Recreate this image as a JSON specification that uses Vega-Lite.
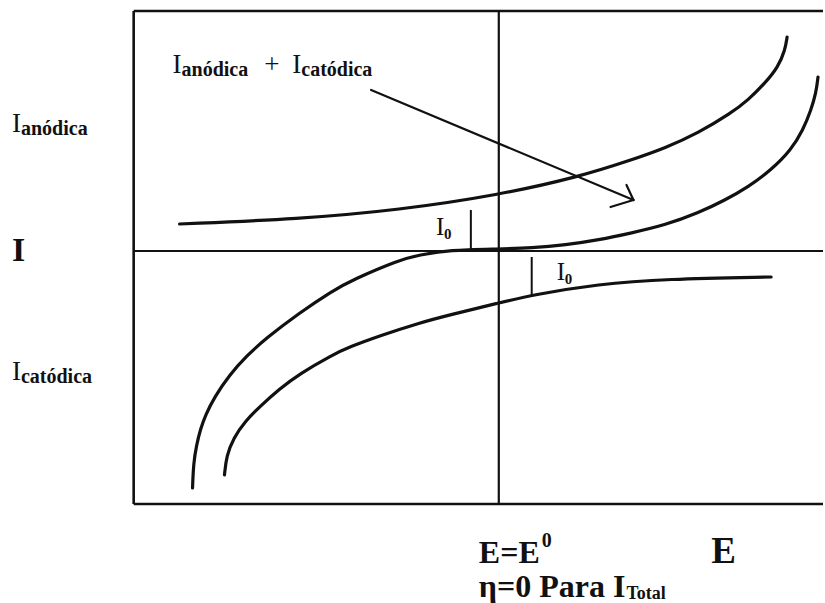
{
  "$schema": "https://vega.github.io/schema/vega-lite/v6.json",
  "width": 825,
  "height": 603,
  "padding": 0,
  "autosize": {"type": "fit", "contains": "padding"},
  "background": "white",
  "config": {"view": {"stroke": null}, "font": "Liberation Serif"},
  "datasets": {
    "curves": [
      {"curve": "anodica", "E": -3.2, "I": 0.27},
      {"curve": "anodica", "E": -2.0, "I": 0.32},
      {"curve": "anodica", "E": -1.0, "I": 0.41},
      {"curve": "anodica", "E": 0.0, "I": 0.56},
      {"curve": "anodica", "E": 0.8, "I": 0.74},
      {"curve": "anodica", "E": 1.33, "I": 0.91},
      {"curve": "anodica", "E": 1.67, "I": 1.03},
      {"curve": "anodica", "E": 2.0, "I": 1.18},
      {"curve": "anodica", "E": 2.33, "I": 1.38},
      {"curve": "anodica", "E": 2.5, "I": 1.51},
      {"curve": "anodica", "E": 2.67, "I": 1.68},
      {"curve": "anodica", "E": 2.8, "I": 1.84},
      {"curve": "anodica", "E": 2.87, "I": 2.01},
      {"curve": "anodica", "E": 2.89, "I": 2.14},
      {"curve": "total", "E": -3.07, "I": -2.37},
      {"curve": "total", "E": -3.06, "I": -2.12},
      {"curve": "total", "E": -3.03, "I": -1.94},
      {"curve": "total", "E": -2.99, "I": -1.78},
      {"curve": "total", "E": -2.94, "I": -1.64},
      {"curve": "total", "E": -2.85, "I": -1.46},
      {"curve": "total", "E": -2.7, "I": -1.24},
      {"curve": "total", "E": -2.53, "I": -1.05},
      {"curve": "total", "E": -2.33, "I": -0.87},
      {"curve": "total", "E": -2.0, "I": -0.62},
      {"curve": "total", "E": -1.67, "I": -0.4},
      {"curve": "total", "E": -1.47, "I": -0.29},
      {"curve": "total", "E": -1.0, "I": -0.09},
      {"curve": "total", "E": -0.8, "I": -0.04},
      {"curve": "total", "E": -0.5, "I": 0.01},
      {"curve": "total", "E": 0.0, "I": 0.02},
      {"curve": "total", "E": 0.33, "I": 0.03},
      {"curve": "total", "E": 0.67, "I": 0.06},
      {"curve": "total", "E": 1.0, "I": 0.11},
      {"curve": "total", "E": 1.33, "I": 0.18},
      {"curve": "total", "E": 1.67, "I": 0.26},
      {"curve": "total", "E": 2.0, "I": 0.38},
      {"curve": "total", "E": 2.27, "I": 0.51},
      {"curve": "total", "E": 2.5, "I": 0.64},
      {"curve": "total", "E": 2.73, "I": 0.81},
      {"curve": "total", "E": 2.93, "I": 1.01},
      {"curve": "total", "E": 3.05, "I": 1.21},
      {"curve": "total", "E": 3.13, "I": 1.41},
      {"curve": "total", "E": 3.18, "I": 1.58},
      {"curve": "total", "E": 3.2, "I": 1.74},
      {"curve": "catodica", "E": -2.75, "I": -2.24},
      {"curve": "catodica", "E": -2.73, "I": -2.05},
      {"curve": "catodica", "E": -2.66, "I": -1.87},
      {"curve": "catodica", "E": -2.54, "I": -1.7},
      {"curve": "catodica", "E": -2.4, "I": -1.56},
      {"curve": "catodica", "E": -2.2, "I": -1.38},
      {"curve": "catodica", "E": -2.0, "I": -1.23},
      {"curve": "catodica", "E": -1.67, "I": -1.04},
      {"curve": "catodica", "E": -1.5, "I": -0.96},
      {"curve": "catodica", "E": -1.17, "I": -0.84},
      {"curve": "catodica", "E": -0.8, "I": -0.72},
      {"curve": "catodica", "E": -0.5, "I": -0.64},
      {"curve": "catodica", "E": 0.0, "I": -0.52},
      {"curve": "catodica", "E": 0.33, "I": -0.44},
      {"curve": "catodica", "E": 1.0, "I": -0.33},
      {"curve": "catodica", "E": 1.67, "I": -0.28},
      {"curve": "catodica", "E": 2.73, "I": -0.26}
    ],
    "frame": [
      {"edge": "top", "E": -3.66, "E2": 3.25, "I": 2.4, "I2": 2.4},
      {"edge": "bottom", "E": -3.66, "E2": 3.25, "I": -2.53, "I2": -2.53},
      {"edge": "left", "E": -3.66, "E2": -3.66, "I": 2.4, "I2": -2.53}
    ],
    "axes": [
      {"axis": "I = 0", "E": -3.66, "E2": 3.25, "I": 0.0, "I2": 0.0},
      {"axis": "E = E0", "E": 0.0, "E2": 0.0, "I": 2.4, "I2": -2.53}
    ],
    "exchange": [
      {"mark": "I0 anodica", "E": -0.28, "E2": -0.28, "I": 0.41, "I2": 0.01},
      {"mark": "I0 catodica", "E": 0.33, "E2": 0.33, "I": -0.06, "I2": -0.44}
    ],
    "arrow": [
      {"seg": "shaft", "E": -1.28, "I": 1.61},
      {"seg": "shaft", "E": 1.35, "I": 0.51},
      {"seg": "barb1", "E": 1.12, "I": 0.44},
      {"seg": "barb1", "E": 1.35, "I": 0.51},
      {"seg": "barb2", "E": 1.28, "I": 0.66},
      {"seg": "barb2", "E": 1.35, "I": 0.51}
    ],
    "labels": [
      {"part": "base", "text": "I", "E": -3.27, "I": 1.78},
      {"part": "sub", "text": "anódica", "E": -3.18, "I": 1.755},
      {"part": "base", "text": "+", "E": -2.35, "I": 1.78},
      {"part": "base", "text": "I", "E": -2.07, "I": 1.78},
      {"part": "sub", "text": "catódica", "E": -1.98, "I": 1.755},
      {"part": "base", "text": "I", "E": -4.88, "I": 1.19},
      {"part": "sub", "text": "anódica", "E": -4.79, "I": 1.16},
      {"part": "base", "text": "I", "E": -4.88, "I": -1.29},
      {"part": "sub", "text": "catódica", "E": -4.79, "I": -1.32},
      {"part": "strong", "text": "I", "E": -4.88, "I": -0.1},
      {"part": "strongE", "text": "E", "E": 2.13, "I": -3.12},
      {"part": "bottom", "text": "E=E", "E": -0.2, "I": -3.12},
      {"part": "sup", "text": "0", "E": 0.43, "I": -2.96},
      {"part": "bottom", "text": "η=0 Para I", "E": -0.2, "I": -3.46},
      {"part": "subsmall", "text": "Total", "E": 1.28, "I": -3.48},
      {"part": "small", "text": "I", "E": -0.63, "I": 0.16},
      {"part": "smallsub", "text": "0", "E": -0.55, "I": 0.12},
      {"part": "small", "text": "I", "E": 0.58, "I": -0.29},
      {"part": "smallsub", "text": "0", "E": 0.66, "I": -0.33}
    ]
  },
  "encoding": {
    "x": {"field": "E", "type": "quantitative", "axis": null,
          "scale": {"domain": [-5, 3.25], "nice": false, "zero": false}},
    "y": {"field": "I", "type": "quantitative", "axis": null,
          "scale": {"domain": [-3.52, 2.51], "nice": false, "zero": false}}
  },
  "layer": [
    {
      "data": {"name": "frame"},
      "mark": {"type": "rule", "color": "#111", "strokeWidth": 2.6},
      "encoding": {"x2": {"field": "E2"}, "y2": {"field": "I2"}}
    },
    {
      "data": {"name": "axes"},
      "mark": {"type": "rule", "color": "#111", "strokeWidth": 2.2},
      "encoding": {"x2": {"field": "E2"}, "y2": {"field": "I2"}}
    },
    {
      "data": {"name": "exchange"},
      "mark": {"type": "rule", "color": "#111", "strokeWidth": 2},
      "encoding": {"x2": {"field": "E2"}, "y2": {"field": "I2"}}
    },
    {
      "data": {"name": "curves"},
      "mark": {"type": "line", "color": "#111", "strokeWidth": 3.2, "interpolate": "basis", "strokeCap": "round"},
      "encoding": {"detail": {"field": "curve"}}
    },
    {
      "data": {"name": "arrow"},
      "mark": {"type": "line", "color": "#111", "strokeWidth": 2.2, "strokeCap": "round"},
      "encoding": {"detail": {"field": "seg"}}
    },
    {
      "data": {"name": "labels"},
      "transform": [{"filter": "datum.part === 'base'"}],
      "mark": {"type": "text", "align": "left", "baseline": "alphabetic", "fontSize": 27, "color": "#111"},
      "encoding": {"text": {"field": "text"}}
    },
    {
      "data": {"name": "labels"},
      "transform": [{"filter": "datum.part === 'sub'"}],
      "mark": {"type": "text", "align": "left", "baseline": "alphabetic", "fontSize": 20, "fontWeight": "bold", "color": "#111"},
      "encoding": {"text": {"field": "text"}}
    },
    {
      "data": {"name": "labels"},
      "transform": [{"filter": "datum.part === 'subsmall'"}],
      "mark": {"type": "text", "align": "left", "baseline": "alphabetic", "fontSize": 18, "fontWeight": "bold", "color": "#111"},
      "encoding": {"text": {"field": "text"}}
    },
    {
      "data": {"name": "labels"},
      "transform": [{"filter": "datum.part === 'strong'"}],
      "mark": {"type": "text", "align": "left", "baseline": "alphabetic", "fontSize": 34, "fontWeight": "bold", "color": "#111"},
      "encoding": {"text": {"field": "text"}}
    },
    {
      "data": {"name": "labels"},
      "transform": [{"filter": "datum.part === 'strongE'"}],
      "mark": {"type": "text", "align": "left", "baseline": "alphabetic", "fontSize": 37, "fontWeight": "bold", "color": "#111"},
      "encoding": {"text": {"field": "text"}}
    },
    {
      "data": {"name": "labels"},
      "transform": [{"filter": "datum.part === 'bottom'"}],
      "mark": {"type": "text", "align": "left", "baseline": "alphabetic", "fontSize": 32, "fontWeight": "bold", "color": "#111"},
      "encoding": {"text": {"field": "text"}}
    },
    {
      "data": {"name": "labels"},
      "transform": [{"filter": "datum.part === 'sup'"}],
      "mark": {"type": "text", "align": "left", "baseline": "alphabetic", "fontSize": 20, "fontWeight": "bold", "color": "#111"},
      "encoding": {"text": {"field": "text"}}
    },
    {
      "data": {"name": "labels"},
      "transform": [{"filter": "datum.part === 'small'"}],
      "mark": {"type": "text", "align": "left", "baseline": "alphabetic", "fontSize": 25, "color": "#111"},
      "encoding": {"text": {"field": "text"}}
    },
    {
      "data": {"name": "labels"},
      "transform": [{"filter": "datum.part === 'smallsub'"}],
      "mark": {"type": "text", "align": "left", "baseline": "alphabetic", "fontSize": 15, "fontWeight": "bold", "color": "#111"},
      "encoding": {"text": {"field": "text"}}
    }
  ]
}
